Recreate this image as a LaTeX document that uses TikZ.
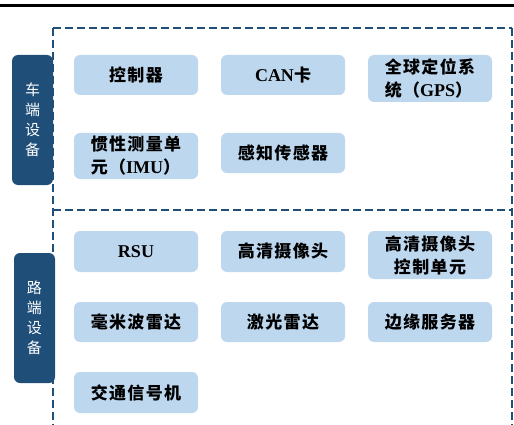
\documentclass[tikz,border=0pt]{standalone}
\usepackage{fontspec}
\setmainfont{Liberation Serif}
\newfontfamily\cjk[LetterSpace=8]{Noto Sans CJK SC}
\newcommand{\lat}[1]{{\fontsize{18}{23}\selectfont #1}}
\definecolor{darkblue}{HTML}{1F4E79}
\definecolor{lightblue}{HTML}{BDD7EE}
\begin{document}
\begin{tikzpicture}[x=1pt,y=-1pt,
  item/.style={fill=lightblue, rounded corners=6pt, minimum width=124pt, inner sep=0pt,
    font=\fontsize{17}{23}\selectfont\bfseries, text=black},
  side/.style={fill=darkblue, rounded corners=6pt, minimum width=41pt, minimum height=130pt,
    inner sep=0pt, align=center, text=white, font=\fontsize{15}{20}\selectfont\cjk},
  frame/.style={draw=darkblue, line width=2.5pt, dash pattern=on 8pt off 4pt}]
\useasboundingbox (0,0) rectangle (514,425);
\draw[line width=3pt, black] (0,5.5) -- (514,5.5);
% side labels
\node[side] (car) at (32.5,120) {车\\端\\设\\备};
\node[side] (road) at (34.5,318) {路\\端\\设\\备};
% dashed frames
\draw[frame] (53,28) -- (512,28);
\draw[frame] (53,210) -- (512,210);
\draw[frame] (53,28) -- (53,425);
\draw[frame] (512,28) -- (512,425);
% vehicle side
\node[item, minimum height=40pt] (ctrl) at (136,75) {\cjk 控制器};
\node[item, minimum height=40pt] (can) at (283,75) {\lat{CAN}{\cjk 卡}};
\node[item, minimum height=47pt, align=left] (gps) at (430,78.5) {{\cjk 全球定位系}\\{\cjk 统（}\lat{GPS}{\cjk ）}};
\node[item, minimum height=46pt, align=left] (imu) at (136,156) {{\cjk 惯性测量单}\\{\cjk 元（}\lat{IMU}{\cjk ）}};
\node[item, minimum height=40pt] (sens) at (283,153) {\cjk 感知传感器};
% road side
\node[item, minimum height=41pt] (rsu) at (136,251.5) {\lat{RSU}};
\node[item, minimum height=41pt] (cam) at (283,251.5) {\cjk 高清摄像头};
\node[item, minimum height=48pt, align=center] (camctl) at (430,255) {{\cjk 高清摄像头}\\{\cjk 控制单元}};
\node[item, minimum height=40pt] (mmw) at (136,322) {\cjk 毫米波雷达};
\node[item, minimum height=40pt] (lidar) at (283,322) {\cjk 激光雷达};
\node[item, minimum height=40pt] (edge) at (430,322) {\cjk 边缘服务器};
\node[item, minimum height=41pt] (sig) at (136,392.5) {\cjk 交通信号机};
\end{tikzpicture}
\end{document}
